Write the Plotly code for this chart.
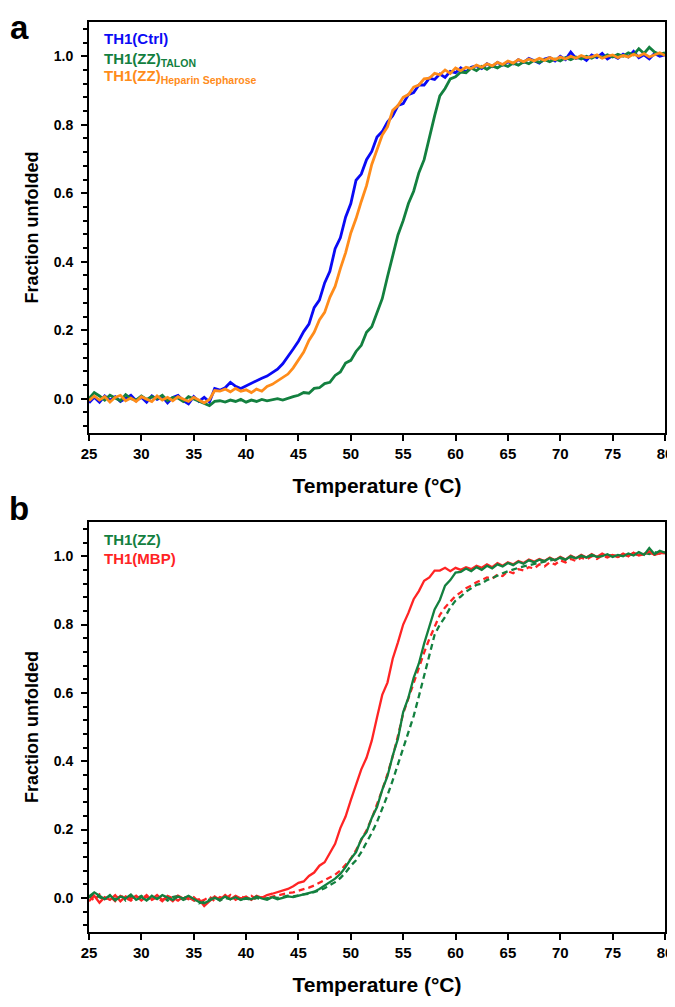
import plotly.graph_objects as go

# Temperature grid (°C)
temperature = [25.0, 25.5, 26.0, 26.5, 27.0, 27.5, 28.0, 28.5, 29.0, 29.5,
               30.0, 30.5, 31.0, 31.5, 32.0, 32.5, 33.0, 33.5, 34.0, 34.5,
               35.0, 35.5, 36.0, 36.5, 37.0, 37.5, 38.0, 38.5, 39.0, 39.5,
               40.0, 40.5, 41.0, 41.5, 42.0, 42.5, 43.0, 43.5, 44.0, 44.5,
               45.0, 45.5, 46.0, 46.5, 47.0, 47.5, 48.0, 48.5, 49.0, 49.5,
               50.0, 50.5, 51.0, 51.5, 52.0, 52.5, 53.0, 53.5, 54.0, 54.5,
               55.0, 55.5, 56.0, 56.5, 57.0, 57.5, 58.0, 58.5, 59.0, 59.5,
               60.0, 60.5, 61.0, 61.5, 62.0, 62.5, 63.0, 63.5, 64.0, 64.5,
               65.0, 65.5, 66.0, 66.5, 67.0, 67.5, 68.0, 68.5, 69.0, 69.5,
               70.0, 70.5, 71.0, 71.5, 72.0, 72.5, 73.0, 73.5, 74.0, 74.5,
               75.0, 75.5, 76.0, 76.5, 77.0, 77.5, 78.0, 78.5, 79.0, 79.5, 80.0]

# ---- Panel a ----
th1_ctrl = [-0.012, 0.004, -0.010, 0.008, -0.004, 0.006, -0.008, 0.002, 0.010, -0.006,
            0.004, -0.010, 0.008, -0.002, 0.006, -0.012, 0.004, 0.010, -0.006, -0.015,
            0.006, -0.008, 0.004, -0.010, 0.030, 0.025, 0.032, 0.048, 0.036, 0.030,
            0.038, 0.046, 0.052, 0.060, 0.066, 0.076, 0.086, 0.102, 0.122, 0.145,
            0.168, 0.196, 0.218, 0.266, 0.288, 0.338, 0.372, 0.438, 0.470, 0.530,
            0.570, 0.638, 0.656, 0.698, 0.722, 0.764, 0.780, 0.808, 0.826, 0.856,
            0.862, 0.888, 0.894, 0.916, 0.916, 0.936, 0.932, 0.948, 0.938, 0.956,
            0.952, 0.966, 0.954, 0.968, 0.972, 0.964, 0.978, 0.970, 0.982, 0.974,
            0.984, 0.978, 0.990, 0.982, 0.994, 0.986, 0.980, 0.992, 0.996, 0.986,
            1.000, 0.990, 1.012, 0.994, 0.998, 0.988, 1.004, 0.996, 1.008, 0.992,
            1.002, 0.994, 1.006, 0.998, 1.014, 0.996, 1.004, 0.992, 1.008, 1.000, 1.004]

th1_zz_talon = [0.000, 0.018, 0.008, -0.004, 0.010, 0.002, -0.006, 0.012, 0.000, -0.004,
                0.008, -0.002, 0.006, 0.000, 0.010, -0.006, 0.004, 0.002, -0.008, 0.006,
                0.000, -0.006, -0.012, -0.020, -0.008, -0.006, -0.010, -0.004, -0.008, -0.002,
                -0.010, -0.004, -0.008, -0.002, -0.006, -0.004, 0.000, -0.004, 0.002, 0.006,
                0.010, 0.018, 0.016, 0.030, 0.032, 0.044, 0.048, 0.068, 0.078, 0.104,
                0.112, 0.138, 0.156, 0.194, 0.210, 0.250, 0.292, 0.356, 0.416, 0.478,
                0.520, 0.570, 0.606, 0.660, 0.698, 0.764, 0.826, 0.884, 0.906, 0.934,
                0.940, 0.954, 0.952, 0.966, 0.958, 0.970, 0.962, 0.972, 0.966, 0.976,
                0.970, 0.980, 0.974, 0.984, 0.978, 0.988, 0.982, 0.990, 0.984, 0.992,
                0.986, 0.996, 0.990, 0.998, 0.992, 1.000, 0.994, 1.002, 0.996, 1.004,
                0.998, 1.006, 1.000, 1.010, 1.004, 1.022, 1.008, 1.026, 1.012, 1.006, 1.010]

th1_zz_heparin = [-0.006, 0.008, -0.004, 0.006, -0.010, 0.004, 0.010, -0.006, 0.002, -0.008,
                  0.006, 0.000, -0.008, 0.008, -0.004, 0.004, -0.006, 0.006, 0.000, -0.008,
                  0.004, -0.004, -0.012, -0.002, 0.024, 0.022, 0.028, 0.020, 0.030, 0.022,
                  0.026, 0.018, 0.028, 0.022, 0.036, 0.042, 0.052, 0.062, 0.072, 0.090,
                  0.114, 0.136, 0.170, 0.194, 0.230, 0.252, 0.296, 0.328, 0.380, 0.426,
                  0.484, 0.526, 0.576, 0.622, 0.684, 0.724, 0.770, 0.794, 0.842, 0.856,
                  0.880, 0.888, 0.910, 0.916, 0.934, 0.936, 0.950, 0.946, 0.960, 0.950,
                  0.966, 0.958, 0.968, 0.964, 0.974, 0.968, 0.978, 0.972, 0.982, 0.976,
                  0.986, 0.980, 0.990, 0.984, 0.992, 0.986, 0.994, 0.988, 0.996, 0.990,
                  0.998, 0.992, 1.000, 0.994, 1.002, 0.996, 0.998, 1.004, 0.994, 1.000,
                  1.004, 0.996, 1.002, 0.998, 1.006, 1.000, 1.008, 0.998, 1.004, 1.010, 1.002]

# ---- Panel b ----
th1_zz = [0.004, 0.016, 0.006, -0.004, 0.008, -0.008, 0.004, -0.002, 0.010, -0.006,
          0.002, -0.008, 0.006, -0.004, 0.008, 0.000, -0.006, 0.004, -0.002, 0.006,
          -0.004, -0.012, -0.016, -0.008, 0.000, -0.006, 0.004, -0.004, 0.002, -0.006,
          0.000, -0.004, 0.004, -0.002, -0.006, 0.002, -0.004, 0.000, 0.004, 0.002,
          0.006, 0.008, 0.012, 0.018, 0.026, 0.036, 0.046, 0.056, 0.070, 0.090,
          0.114, 0.134, 0.172, 0.192, 0.234, 0.266, 0.316, 0.356, 0.416, 0.466,
          0.544, 0.586, 0.644, 0.686, 0.744, 0.796, 0.844, 0.872, 0.914, 0.930,
          0.952, 0.954, 0.964, 0.956, 0.968, 0.960, 0.972, 0.964, 0.976, 0.970,
          0.980, 0.974, 0.984, 0.978, 0.988, 0.982, 0.990, 0.986, 0.994, 0.988,
          0.996, 0.990, 1.000, 0.994, 1.002, 0.996, 1.004, 0.998, 1.000, 1.006,
          0.998, 1.004, 1.000, 1.008, 1.002, 1.012, 1.004, 1.024, 1.006, 1.016, 1.010]

th1_mbp = [-0.010, 0.006, -0.014, 0.002, -0.006, 0.008, -0.010, 0.004, -0.004, 0.006,
           -0.008, 0.004, -0.004, 0.008, -0.006, 0.002, -0.010, 0.006, -0.002, 0.004,
           -0.008, -0.004, -0.024, -0.010, 0.004, -0.006, 0.008, -0.004, 0.006, -0.002,
           0.004, -0.006, 0.006, 0.000, 0.008, 0.012, 0.016, 0.022, 0.026, 0.034,
           0.044, 0.048, 0.064, 0.074, 0.094, 0.104, 0.130, 0.158, 0.204, 0.238,
           0.286, 0.328, 0.376, 0.410, 0.460, 0.528, 0.594, 0.630, 0.700, 0.748,
           0.800, 0.834, 0.874, 0.898, 0.928, 0.938, 0.958, 0.958, 0.966, 0.956,
           0.966, 0.960, 0.968, 0.962, 0.972, 0.966, 0.976, 0.968, 0.980, 0.972,
           0.982, 0.976, 0.986, 0.980, 0.990, 0.984, 0.992, 0.986, 0.996, 0.988,
           0.998, 0.990, 1.002, 0.994, 1.004, 0.996, 1.006, 0.998, 1.008, 1.000,
           1.004, 0.998, 1.008, 1.000, 1.010, 1.002, 1.006, 1.014, 1.004, 1.008, 1.012]

th1_mbp_dashed = [0.006, -0.008, 0.010, -0.004, 0.004, -0.010, 0.006, 0.000, -0.008, 0.004,
                  -0.004, 0.008, -0.006, 0.002, -0.010, 0.006, 0.000, -0.008, 0.004, -0.004,
                  0.002, -0.012, -0.006, 0.004, -0.010, 0.002, -0.004, 0.008, -0.006, 0.004,
                  -0.002, 0.006, -0.004, 0.002, 0.000, 0.004, 0.006, 0.010, 0.014, 0.016,
                  0.020, 0.024, 0.030, 0.036, 0.044, 0.052, 0.060, 0.068, 0.080, 0.096,
                  0.114, 0.140, 0.168, 0.198, 0.232, 0.272, 0.316, 0.362, 0.414, 0.474,
                  0.540, 0.584, 0.630, 0.676, 0.718, 0.758, 0.792, 0.828, 0.850, 0.868,
                  0.884, 0.894, 0.906, 0.914, 0.924, 0.930, 0.938, 0.934, 0.946, 0.942,
                  0.956, 0.950, 0.962, 0.958, 0.968, 0.964, 0.976, 0.970, 0.982, 0.976,
                  0.988, 0.982, 0.992, 0.986, 0.996, 0.990, 1.000, 0.992, 1.002, 0.996,
                  1.004, 0.998, 1.006, 1.000, 1.010, 1.002, 1.006, 1.012, 1.004, 1.010, 1.008]

th1_zz_dashed = [0.000, 0.012, 0.002, -0.006, 0.006, -0.004, 0.008, -0.008, 0.004, -0.002,
                 0.006, -0.006, 0.002, -0.002, 0.004, -0.008, 0.002, 0.006, -0.006, 0.000,
                 -0.006, -0.016, -0.012, -0.004, 0.002, -0.008, 0.000, -0.004, 0.004, -0.006,
                 -0.002, -0.006, 0.000, -0.004, -0.002, 0.002, 0.000, 0.004, 0.006, 0.004,
                 0.008, 0.010, 0.012, 0.016, 0.022, 0.028, 0.036, 0.046, 0.058, 0.074,
                 0.094, 0.110, 0.134, 0.160, 0.190, 0.222, 0.260, 0.300, 0.344, 0.390,
                 0.440, 0.482, 0.532, 0.590, 0.650, 0.712, 0.770, 0.800, 0.822, 0.850,
                 0.870, 0.882, 0.896, 0.906, 0.916, 0.920, 0.930, 0.936, 0.944, 0.950,
                 0.956, 0.962, 0.966, 0.970, 0.974, 0.978, 0.982, 0.984, 0.988, 0.990,
                 0.994, 0.990, 0.998, 0.994, 1.000, 0.996, 1.002, 0.998, 1.004, 1.000,
                 1.002, 0.998, 1.006, 1.002, 1.008, 1.004, 1.010, 1.006, 1.012, 1.008, 1.010]

x_ticks = [25, 30, 35, 40, 45, 50, 55, 60, 65, 70, 75, 80]
y_ticks = [0.0, 0.2, 0.4, 0.6, 0.8, 1.0]

BLUE = "#0A0AF5"
GREEN = "#13803F"
ORANGE = "#FF8C1A"
RED = "#FF2424"
FONT = "Liberation Sans, Arial, sans-serif"

fig = go.Figure()

# panel a
fig.add_trace(go.Scatter(x=temperature, y=th1_ctrl, mode="lines",
                         line=dict(color=BLUE, width=2.8), xaxis="x", yaxis="y"))
fig.add_trace(go.Scatter(x=temperature, y=th1_zz_talon, mode="lines",
                         line=dict(color=GREEN, width=2.8), xaxis="x", yaxis="y"))
fig.add_trace(go.Scatter(x=temperature, y=th1_zz_heparin, mode="lines",
                         line=dict(color=ORANGE, width=2.8), xaxis="x", yaxis="y"))

# panel b
fig.add_trace(go.Scatter(x=temperature, y=th1_mbp_dashed, mode="lines",
                         line=dict(color=RED, width=2.3, dash="6px,4px"), xaxis="x2", yaxis="y2"))
fig.add_trace(go.Scatter(x=temperature, y=th1_zz_dashed, mode="lines",
                         line=dict(color=GREEN, width=2.3, dash="6px,4px"), xaxis="x2", yaxis="y2"))
fig.add_trace(go.Scatter(x=temperature, y=th1_mbp, mode="lines",
                         line=dict(color=RED, width=2.3), xaxis="x2", yaxis="y2"))
fig.add_trace(go.Scatter(x=temperature, y=th1_zz, mode="lines",
                         line=dict(color=GREEN, width=2.3), xaxis="x2", yaxis="y2"))

ytickfont = dict(family=FONT, size=14, color="black", weight="bold")
xtickfont = dict(family=FONT, size=15, color="black", weight="bold")
ytitlefont = dict(family=FONT, size=18, color="black", weight="bold")
xtitlefont = dict(family=FONT, size=21, color="black", weight="bold")

def xaxis_cfg(anchor):
    return dict(range=[25, 80], tickvals=x_ticks, ticks="outside", ticklen=6, tickwidth=2,
                tickcolor="black", showline=True, linewidth=2, linecolor="black",
                mirror=True, showgrid=False, zeroline=False, tickfont=xtickfont,
                automargin=False,
                title=dict(text="Temperature (°C)", font=xtitlefont, standoff=17),
                anchor=anchor, domain=[0, 1])

def yaxis_cfg(anchor, domain):
    return dict(range=[-0.1, 1.1], tickvals=y_ticks, tickformat=".1f", ticks="outside",
                ticklen=6, tickwidth=2, tickcolor="black", showline=True, linewidth=2,
                linecolor="black", mirror=True, showgrid=False, zeroline=False,
                minor=dict(tick0=0, dtick=0.04, ticks="outside", ticklen=4, tickwidth=1.5,
                           tickcolor="black", showgrid=False),
                tickfont=ytickfont, automargin=False, ticklabelstandoff=5,
                title=dict(text="Fraction unfolded", font=ytitlefont, standoff=10),
                anchor=anchor, domain=domain)

# The page body adds an 8px offset, so the figure is 8px smaller than the window
fig.update_layout(
    width=667, height=999,
    margin=dict(l=81, r=10, t=14, b=75),
    paper_bgcolor="white", plot_bgcolor="white",
    showlegend=False,
    xaxis=xaxis_cfg("y"),
    yaxis=yaxis_cfg("x", [0.5484, 1.0]),
    xaxis2=xaxis_cfg("y2"),
    yaxis2=yaxis_cfg("x2", [0.0, 0.4505]),
)

legend_font = dict(family=FONT, size=15, weight="bold")

def legend_label(text, color, xref, yref, y):
    fig.add_annotation(text=text, xref=xref, yref=yref, x=0.022, y=y,
                       xanchor="left", yanchor="middle", showarrow=False,
                       font=dict(legend_font, color=color))

legend_label("TH1(Ctrl)", BLUE, "x domain", "y domain", 0.960)
legend_label("TH1(ZZ)<sub>TALON</sub>", GREEN, "x domain", "y domain", 0.909)
legend_label("TH1(ZZ)<sub>Heparin Sepharose</sub>", ORANGE, "x domain", "y domain", 0.867)
legend_label("TH1(ZZ)", GREEN, "x2 domain", "y2 domain", 0.958)
legend_label("TH1(MBP)", RED, "x2 domain", "y2 domain", 0.910)

panel_font = dict(family=FONT, size=33, color="black", weight="bold")
fig.add_annotation(text="a", xref="paper", yref="paper", x=-0.1215, y=1.0155,
                   xanchor="center", yanchor="top", showarrow=False, font=panel_font,
                   borderpad=0)
fig.add_annotation(text="b", xref="paper", yref="paper", x=-0.1215, y=0.4650,
                   xanchor="center", yanchor="middle", showarrow=False, font=panel_font)

fig.write_html("out.html")
